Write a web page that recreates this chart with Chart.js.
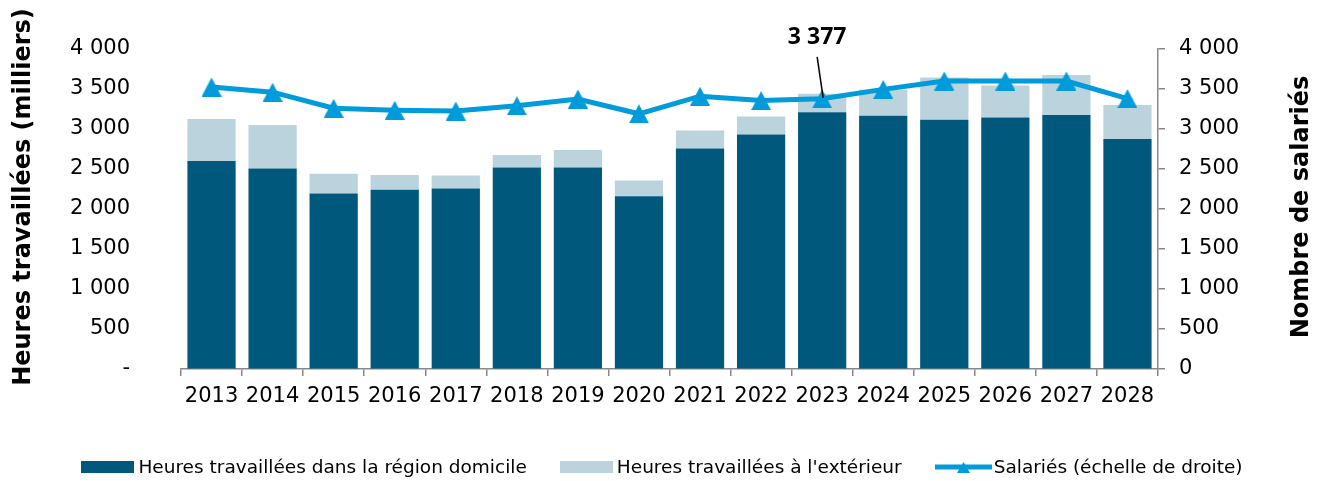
<!DOCTYPE html>
<html lang="fr">
<head>
<meta charset="utf-8">
<script src="https://cdn.jsdelivr.net/npm/chart.js@4"></script>
<style>
html,body{margin:0;padding:0;background:#fff;}
#wrap{position:relative;width:1324px;height:481px;}
#legend{position:absolute;left:0;top:456px;width:1324px;display:flex;justify-content:center;align-items:center;gap:33px;
font-family:"DejaVu Sans",Verdana,sans-serif;font-size:18.5px;color:#000;}
.item{display:flex;align-items:center;white-space:nowrap;}
.box{width:53px;height:12px;margin-right:4px;}
</style>
</head>
<body>
<div id="wrap">
<canvas id="chartCanvas"></canvas>
<div id="legend"></div>
</div>
<script>

const annees = ["2013","2014","2015","2016","2017","2018","2019","2020","2021","2022","2023","2024","2025","2026","2027","2028"];

// heures travaillees (milliers)
const heuresDomicile = [2600,2505,2195,2240,2255,2520,2520,2160,2755,2930,3210,3165,3115,3145,3175,2875];
const heuresExterieur = [525,545,245,185,165,155,218,195,225,225,230,325,530,400,500,425];

// nombre de salaries (echelle de droite)
const salaries = [3525,3460,3260,3235,3225,3290,3375,3190,3410,3355,3377,3495,3600,3600,3600,3380];

const graduations = [0,500,1000,1500,2000,2500,3000,3500,4000];

const couleurDomicile = "#00587C";
const couleurExterieur = "#BAD3DD";
const couleurSalaries = "#009BDA";

const indexAnnotation = 10;

function formatNombre(v){
return String(v).replace(/\B(?=(\d{3})+(?!\d))/g," ");
}

// triangle centre sur le point (comme Excel)
function makeTriangle(w,h,color){
const c=document.createElement("canvas");
c.width=w;c.height=h;
const g=c.getContext("2d");
g.fillStyle=color;
g.beginPath();
g.moveTo(w/2,0);
g.lineTo(w,h);
g.lineTo(0,h);
g.closePath();
g.fill();
return c;
}

const triangle = makeTriangle(20,19,couleurSalaries);

const titresPlugin = {
id:"titres",
afterDraw(chart){
const ctx=chart.ctx;
ctx.save();
ctx.fillStyle="#000";
ctx.font="bold 24px 'DejaVu Sans', Verdana, sans-serif";
ctx.textAlign="center";
ctx.textBaseline="middle";

ctx.save();
ctx.translate(24,197);
ctx.rotate(-Math.PI/2);
ctx.fillText("Heures travaillées (milliers)",0,0);
ctx.restore();

ctx.save();
ctx.translate(1302,207);
ctx.rotate(-Math.PI/2);
ctx.fillText("Nombre de salariés",0,0);
ctx.restore();

ctx.restore();
}
};

const annotationPlugin = {
id:"annotation",
afterDatasetsDraw(chart){
const meta=chart.getDatasetMeta(2);
const pt=meta.data[indexAnnotation];
if(!pt) return;
const ctx=chart.ctx;
ctx.save();
ctx.strokeStyle="#000";
ctx.lineWidth=1.5;
ctx.beginPath();
ctx.moveTo(pt.x-5,pt.y-42);
ctx.lineTo(pt.x+1,pt.y-1);
ctx.stroke();
ctx.fillStyle="#000";
ctx.font="bold 23px 'Open Sans', sans-serif";
ctx.textAlign="center";
ctx.textBaseline="middle";
ctx.fillText(formatNombre(salaries[indexAnnotation]),pt.x-5,pt.y-61);
ctx.restore();
}
};

const ctx=document.getElementById("chartCanvas");

const chart=new Chart(ctx,{

type:"bar",

data:{

labels:annees,

datasets:[
{
label:"Heures travaillées dans la région domicile",
data:heuresDomicile,
backgroundColor:couleurDomicile,
yAxisID:"y",
stack:"heures",
order:2,
barPercentage:0.79,
categoryPercentage:1
},
{
label:"Heures travaillées à l'extérieur",
data:heuresExterieur,
backgroundColor:couleurExterieur,
yAxisID:"y",
stack:"heures",
order:2,
barPercentage:0.79,
categoryPercentage:1
},
{
type:"line",
label:"Salariés (échelle de droite)",
data:salaries,
borderColor:couleurSalaries,
backgroundColor:couleurSalaries,
borderWidth:5,
pointStyle:triangle,
pointRadius:10,
yAxisID:"y2",
order:1,
tension:0
}
]

},

options:{

responsive:true,
maintainAspectRatio:false,
animation:false,
layout:{padding:{top:49,left:0,right:0,bottom:0}},

plugins:{
legend:{display:false},
tooltip:{enabled:false}
},

scales:{

x:{
stacked:true,
grid:{display:true,drawOnChartArea:false,offset:true,tickLength:7,color:"#888",lineWidth:1.5},
border:{display:true,color:"#888",width:1.5},
ticks:{color:"#000",font:{family:"'DejaVu Sans', Verdana, sans-serif",size:21},padding:8,maxRotation:0,autoSkip:false},
afterFit(axis){axis.height=112;}
},

y:{
position:"left",
stacked:true,
min:0,
max:4000,
afterBuildTicks(axis){axis.ticks=graduations.map(v=>({value:v}));},
// tick invisible qui sert seulement a decaler les libelles
grid:{display:true,drawOnChartArea:false,drawTicks:true,tickLength:45,color:"rgba(0,0,0,0)"},
border:{display:false},
ticks:{
color:"#000",
font:{family:"'DejaVu Sans', Verdana, sans-serif",size:21},
padding:6,
callback:v=>v===0?"-":formatNombre(v)
},
afterFit(axis){axis.width=181;}
},

y2:{
position:"right",
min:0,
max:4000,
afterBuildTicks(axis){axis.ticks=graduations.map(v=>({value:v}));},
grid:{drawOnChartArea:false,drawTicks:true,tickLength:7,color:"#888",lineWidth:1.5},
border:{display:true,color:"#888",width:1.5},
ticks:{
color:"#000",
font:{family:"'DejaVu Sans', Verdana, sans-serif",size:21},
padding:14,
callback:v=>formatNombre(v)
},
afterFit(axis){axis.width=166;}
}

}

},

plugins:[titresPlugin,annotationPlugin]

});

// legende
const legend=document.getElementById("legend");
legend.innerHTML=
`<div class="item"><div class="box" style="background:${couleurDomicile}"></div>${chart.data.datasets[0].label}</div>`+
`<div class="item"><div class="box" style="background:${couleurExterieur}"></div>${chart.data.datasets[1].label}</div>`+
`<div class="item"><svg width="57" height="14" style="margin-right:2px"><line x1="0" y1="7" x2="57" y2="7" stroke="${couleurSalaries}" stroke-width="5" stroke-linecap="round"/><polygon points="22,2 35,2 28.5,13" fill="${couleurSalaries}" transform="rotate(180 28.5 7.5)"/></svg>${chart.data.datasets[2].label}</div>`;

</script>
</body>
</html>
